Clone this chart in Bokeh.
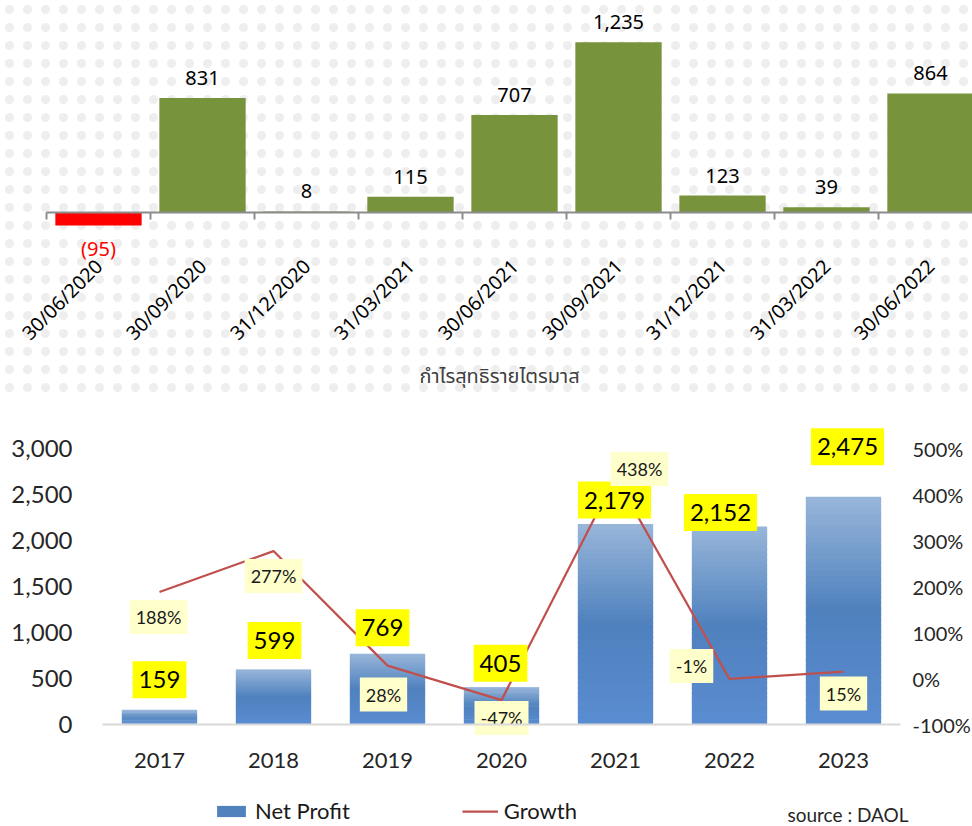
import numpy as np
from bokeh.plotting import figure
from bokeh.models import (Range1d, FixedTicker, LinearAxis, Label, Legend, LegendItem,
                          ColumnDataSource, PrintfTickFormatter, NumeralTickFormatter,
                          BoxAnnotation)
from bokeh.core.properties import value
from bokeh.embed import file_html
from bokeh.resources import INLINE

# ---------------- data ----------------
quarters = ["30/06/2020", "30/09/2020", "31/12/2020", "31/03/2021", "30/06/2021",
            "30/09/2021", "31/12/2021", "31/03/2022", "30/06/2022"]
quarter_profit = [-95, 831, 8, 115, 707, 1235, 123, 39, 864]
quarter_title = "กำไรสุทธิรายไตรมาส"

years = ["2017", "2018", "2019", "2020", "2021", "2022", "2023"]
net_profit = [159, 599, 769, 405, 2179, 2152, 2475]
growth = [188, 277, 28, -47, 438, -1, 15]
profit_ticks = [0, 500, 1000, 1500, 2000, 2500, 3000]
growth_ticks = [-100, 0, 100, 200, 300, 400, 500]
source_text = "source : DAOL"

# ---------------- styling / layout (pixels) ----------------
W, H = 972, 826
GREEN = "#77933C"
RED = "#FF0000"
AXIS_GRAY = "#8C8C8C"
TOP_FONT = "Noto Sans"
BOT_FONT = "Lato"
TXT = "#262626"

# quarterly panel geometry
q_left, q_cat, q_zero, q_px = 46, 104, 212, 0.1378
q_panel_bottom = 400
# yearly panel geometry
y_left, y_cat = 102, 114
p_zero, p_px = 724, 0.092      # net profit axis
g_zero, g_px = 678, 0.46       # growth axis (percent)

# label offsets (pixels) for the yearly chart
profit_label_lift = [30, 29, 26, 24, 24, 14, 50]
profit_label_shift = [0, 1, -5, -1, -1, -9, 4]
growth_label_dx = [-1, 0, -4, 0, 24, -38, 0]
growth_label_dy = [25, 25, 29, 18, -8, -13, 22]

p = figure(width=W, height=H, title=None,
           x_range=Range1d(-q_left / q_cat, (W - q_left) / q_cat),
           y_range=Range1d(-(H - q_zero) / q_px, q_zero / q_px),
           x_axis_location=None, y_axis_location=None,
           output_backend="svg", toolbar_location=None,
           min_border=0, min_border_left=0, min_border_right=0,
           min_border_top=0, min_border_bottom=0)
p.outline_line_color = None
p.grid.visible = False
p.background_fill_color = "white"
p.border_fill_color = "white"
p.extra_x_ranges = {"yx": Range1d(-y_left / y_cat, (W - y_left) / y_cat)}
p.extra_y_ranges = {"profit": Range1d(-(H - p_zero) / p_px, p_zero / p_px),
                    "pct": Range1d(-(H - g_zero) / g_px, g_zero / g_px)}

# faint dotted background texture behind the quarterly panel
p.add_layout(BoxAnnotation(bottom=(q_zero - q_panel_bottom) / q_px, fill_alpha=0,
                           line_color=None, hatch_pattern="dot", hatch_scale=18,
                           hatch_weight=1, hatch_color="#EEEEEE", level="underlay"))

# ================= quarterly chart =================
centers = [i + 0.5 for i in range(len(quarters))]
bounds = [float(i) for i in range(len(quarters) + 1)]

ax_q = LinearAxis(ticker=FixedTicker(ticks=centers, minor_ticks=bounds),
                  major_label_overrides={c: q for c, q in zip(centers, quarters)},
                  fixed_location=0, bounds=(0, (W - q_left) / q_cat))
ax_q.major_label_orientation = np.pi / 4
ax_q.major_tick_out = 0
ax_q.major_tick_in = 0
ax_q.minor_tick_out = 7
ax_q.minor_tick_in = 0
ax_q.minor_tick_line_color = AXIS_GRAY
ax_q.minor_tick_line_width = 2
ax_q.axis_line_color = AXIS_GRAY
ax_q.axis_line_width = 2
ax_q.major_label_standoff = 43
ax_q.major_label_text_font = TOP_FONT
ax_q.major_label_text_font_size = "19.5px"
ax_q.major_label_text_color = "#000000"
p.add_layout(ax_q, "below")

q_colors = [GREEN if v >= 0 else RED for v in quarter_profit]
q_text_colors = ["#000000" if v >= 0 else RED for v in quarter_profit]
q_labels = [f"{v:,}" if v >= 0 else f"({-v:,})" for v in quarter_profit]
q_offsets = [-20 if v >= 0 else 23 for v in quarter_profit]
qsrc = ColumnDataSource(dict(x=centers, top=quarter_profit, color=q_colors,
                             tcolor=q_text_colors, label=q_labels, off=q_offsets))
p.vbar(x="x", top="top", bottom=0, width=0.83, fill_color="color",
       line_color=None, source=qsrc)
p.text(x="x", y="top", text="label", y_offset="off", source=qsrc,
       text_align="center", text_baseline="alphabetic",
       text_font=value(TOP_FONT), text_font_size="20px", text_color="tcolor")
p.add_layout(Label(x=499, y=H - 376, x_units="screen", y_units="screen",
                   text=quarter_title, text_align="center", text_baseline="middle",
                   text_font="Tahoma, 'Noto Sans Thai', 'Noto Sans', sans-serif",
                   text_font_size="20px", text_color="#404040"))

# ================= yearly chart =================
ycenters = [i + 0.5 for i in range(len(years))]

ax_yr = LinearAxis(x_range_name="yx", y_range_name="profit",
                   ticker=FixedTicker(ticks=ycenters),
                   major_label_overrides={c: y for c, y in zip(ycenters, years)},
                   fixed_location=0, bounds=(0, len(years)))
ax_yr.axis_line_color = "#D9D9D9"
ax_yr.axis_line_width = 2
ax_yr.major_tick_out = 0
ax_yr.major_tick_in = 0
ax_yr.major_tick_line_color = None
ax_yr.minor_tick_line_color = None
ax_yr.major_label_standoff = 28
ax_yr.major_label_text_font = BOT_FONT
ax_yr.major_label_text_font_size = "22px"
ax_yr.major_label_text_color = TXT
p.add_layout(ax_yr, "below")

ax_l = LinearAxis(x_range_name="yx", y_range_name="profit",
                  ticker=FixedTicker(ticks=profit_ticks),
                  formatter=NumeralTickFormatter(format="0,0"), fixed_location=0)
ax_l.axis_line_color = None
ax_l.major_tick_out = 0
ax_l.major_tick_in = 0
ax_l.major_tick_line_color = None
ax_l.minor_tick_line_color = None
ax_l.major_label_standoff = 30
ax_l.major_label_text_font = BOT_FONT
ax_l.major_label_text_font_size = "24px"
ax_l.major_label_text_color = TXT
p.add_layout(ax_l, "left")

ax_r = LinearAxis(x_range_name="yx", y_range_name="pct",
                  ticker=FixedTicker(ticks=growth_ticks),
                  formatter=PrintfTickFormatter(format="%d%%"),
                  fixed_location=len(years))
ax_r.axis_line_color = None
ax_r.major_tick_out = 0
ax_r.major_tick_in = 0
ax_r.major_tick_line_color = None
ax_r.minor_tick_line_color = None
ax_r.major_label_standoff = 12
ax_r.major_label_text_font = BOT_FONT
ax_r.major_label_text_font_size = "20px"
ax_r.major_label_text_color = TXT
p.add_layout(ax_r, "right")

# gradient bars built from overlapping horizontal slices of each bar
def _hex(c):
    c = c.lstrip("#")
    return np.array([int(c[i:i + 2], 16) for i in (0, 2, 4)], dtype=float)

c_bot, c_mid, c_top = _hex("#5A8CD2"), _hex("#4F81BD"), _hex("#98B6DA")

def grad(f):
    if f <= 0.5:
        c = c_bot + (c_mid - c_bot) * (f / 0.5)
    else:
        c = c_mid + (c_top - c_mid) * ((f - 0.5) / 0.5)
    return "#%02x%02x%02x" % tuple(int(round(v)) for v in c)

N = 40
sx, sb, st, sc = [], [], [], []
for xc, v in zip(ycenters, net_profit):
    for i in range(N):
        sx.append(xc)
        sb.append(v * i / N)
        st.append(min(v * (i + 1.7) / N, v))
        sc.append(grad((i + 0.5) / N))
bsrc = ColumnDataSource(dict(x=sx, bottom=sb, top=st, color=sc))
bars = p.vbar(x="x", bottom="bottom", top="top", width=0.66, fill_color="color",
              line_color=None, source=bsrc, x_range_name="yx", y_range_name="profit")

gline = p.line(ycenters, growth, x_range_name="yx", y_range_name="pct",
               line_color="#C0504D", line_width=2.25)

psrc = ColumnDataSource(dict(x=ycenters, y=net_profit, label=[f"{v:,}" for v in net_profit],
                             dx=profit_label_shift, dy=[-v for v in profit_label_lift]))
p.text(x="x", y="y", text="label", x_offset="dx", y_offset="dy", source=psrc,
       x_range_name="yx", y_range_name="profit",
       text_align="center", text_baseline="middle",
       text_font=value(BOT_FONT), text_font_size="24px", text_color="#000000",
       background_fill_color="#FFFF00", padding=dict(x=6, y=10))

gsrc = ColumnDataSource(dict(x=ycenters, y=growth, label=[f"{g}%" for g in growth],
                             dx=growth_label_dx, dy=growth_label_dy))
p.text(x="x", y="y", text="label", x_offset="dx", y_offset="dy", source=gsrc,
       x_range_name="yx", y_range_name="pct", text_align="center", text_baseline="middle",
       text_font=value(BOT_FONT), text_font_size="18px", text_color="#1A1A1A",
       background_fill_color="#FFFFCC", padding=dict(x=6, y=6))

legend = Legend(items=[LegendItem(label="Net Profit", renderers=[bars], index=N // 2),
                       LegendItem(label="Growth", renderers=[gline])],
                location=(213, 2), orientation="horizontal",
                glyph_width=36, glyph_height=14, label_standoff=6, spacing=112,
                padding=0, margin=0, border_line_color=None, background_fill_alpha=0,
                label_text_font=BOT_FONT, label_text_font_size="22px",
                label_text_color="#1A1A1A")
p.add_layout(legend, "center")

p.add_layout(Label(x=787, y=12, x_units="screen", y_units="screen", text=source_text,
                   text_align="left", text_baseline="middle", text_font=BOT_FONT,
                   text_font_size="19px", text_color=TXT))

open("out.html", "w").write(file_html(p, INLINE))
